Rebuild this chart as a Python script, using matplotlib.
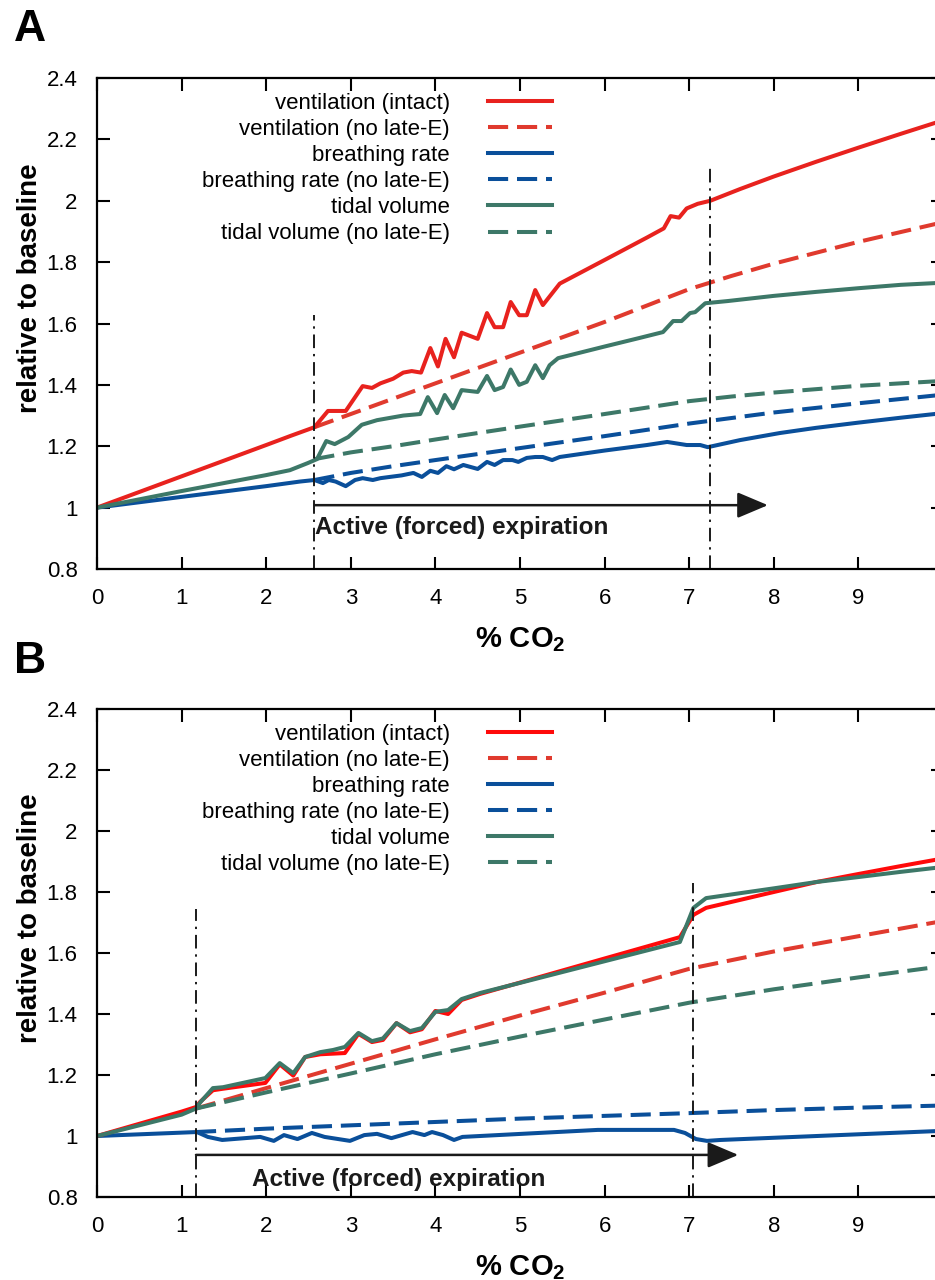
import matplotlib
matplotlib.use("Agg")
import matplotlib.pyplot as plt
from matplotlib.lines import Line2D

plt.rcParams['font.family'] = ['Liberation Sans', 'DejaVu Sans']
plt.rcParams['mathtext.fontset'] = 'custom'
plt.rcParams['mathtext.rm'] = 'Liberation Sans'
plt.rcParams['mathtext.bf'] = 'Liberation Sans:bold'

# ---------------- Panel A data ----------------
a_vent_x = [0, 1, 2, 2.3, 2.57, 2.73, 2.94, 3.14, 3.25, 3.35, 3.5, 3.62, 3.72, 3.83, 3.94,
            4.03, 4.12, 4.22, 4.31, 4.50, 4.61, 4.70, 4.80, 4.89, 4.99, 5.08, 5.18, 5.27,
            5.47, 6.0, 6.5, 6.7, 6.78, 6.88, 6.97, 7.1, 7.25, 7.6, 8.0, 8.5, 9.0, 9.5, 10.0]
a_vent_y = [1.0, 1.102, 1.204, 1.235, 1.262, 1.315, 1.315, 1.396, 1.39, 1.405, 1.42, 1.44,
            1.445, 1.44, 1.52, 1.46, 1.55, 1.49, 1.57, 1.55, 1.634, 1.588, 1.588, 1.67, 1.627,
            1.627, 1.709, 1.66, 1.73, 1.807, 1.88, 1.91, 1.95, 1.945, 1.975, 1.99, 2.0, 2.038,
            2.079, 2.127, 2.173, 2.218, 2.262]

a_rate_x = [0, 1, 2, 2.4, 2.57, 2.67, 2.74, 2.82, 2.94, 3.05, 3.14, 3.26, 3.35, 3.46, 3.6,
            3.74, 3.84, 3.94, 4.03, 4.13, 4.22, 4.33, 4.50, 4.61, 4.70, 4.80, 4.91, 4.98,
            5.08, 5.18, 5.27, 5.38, 5.47, 6.0, 6.5, 6.74, 6.97, 7.13, 7.22, 7.6, 8.07, 8.5,
            9.0, 9.5, 10.0]
a_rate_y = [1.0, 1.035, 1.07, 1.085, 1.09, 1.08, 1.09, 1.085, 1.07, 1.09, 1.096, 1.09, 1.096,
            1.10, 1.105, 1.113, 1.10, 1.12, 1.113, 1.135, 1.125, 1.139, 1.126, 1.149, 1.139,
            1.155, 1.155, 1.149, 1.162, 1.165, 1.165, 1.155, 1.165, 1.186, 1.204, 1.214,
            1.204, 1.204, 1.197, 1.22, 1.243, 1.26, 1.277, 1.293, 1.308]

a_tidal_x = [0, 1, 2, 2.28, 2.49, 2.6, 2.71, 2.81, 2.97, 3.13, 3.31, 3.62, 3.82, 3.91, 4.02,
             4.11, 4.21, 4.31, 4.5, 4.61, 4.70, 4.80, 4.89, 4.99, 5.08, 5.18, 5.27, 5.35,
             5.45, 6.0, 6.4, 6.69, 6.81, 6.91, 7.01, 7.07, 7.19, 7.45, 8.0, 8.5, 9.0, 9.5, 10.0]
a_tidal_y = [1.0, 1.054, 1.106, 1.122, 1.145, 1.158, 1.217, 1.207, 1.23, 1.27, 1.285, 1.30,
             1.305, 1.36, 1.308, 1.367, 1.324, 1.383, 1.377, 1.429, 1.383, 1.393, 1.45, 1.40,
             1.41, 1.464, 1.422, 1.464, 1.487, 1.525, 1.552, 1.572, 1.608, 1.608, 1.634,
             1.637, 1.666, 1.673, 1.69, 1.703, 1.715, 1.726, 1.733]

a_dash_x = [2.57, 3, 3.5, 4, 5, 6, 7, 7.5, 8, 9, 10]
a_vent_noE = [1.262, 1.305, 1.355, 1.405, 1.505, 1.605, 1.712, 1.755, 1.795, 1.866, 1.93]
a_rate_noE = [1.09, 1.113, 1.135, 1.155, 1.194, 1.233, 1.274, 1.292, 1.31, 1.34, 1.368]
a_tidal_noE = [1.158, 1.18, 1.2, 1.222, 1.264, 1.305, 1.347, 1.362, 1.375, 1.397, 1.413]

a_thresholds = [2.57, 7.25]
a_vline_tops = [1.627, 2.12]
a_arrow = (2.57, 7.93, 1.008)

# ---------------- Panel B data ----------------
b_vent_x = [0, 0.5, 1.0, 1.17, 1.22, 1.37, 1.49, 1.99, 2.16, 2.32, 2.46, 2.64, 2.79, 2.93,
            3.09, 3.25, 3.38, 3.54, 3.70, 3.84, 4.0, 4.15, 4.31, 4.53, 5.0, 6.0, 6.89, 7.05,
            7.2, 8.0, 8.51, 9.0, 9.5, 10.0]
b_vent_y = [1.0, 1.04, 1.08, 1.095, 1.112, 1.15, 1.155, 1.174, 1.235, 1.198, 1.259, 1.268,
            1.27, 1.272, 1.335, 1.308, 1.315, 1.37, 1.34, 1.35, 1.41, 1.40, 1.446, 1.466,
            1.503, 1.582, 1.652, 1.725, 1.748, 1.80, 1.833, 1.859, 1.885, 1.91]

b_tidal_x = [0, 1.0, 1.17, 1.22, 1.37, 1.49, 1.99, 2.16, 2.32, 2.46, 2.64, 2.79, 2.93, 3.09,
             3.25, 3.38, 3.54, 3.70, 3.84, 4.0, 4.15, 4.31, 4.53, 5.0, 6.0, 6.89, 7.05, 7.2,
             8.0, 8.51, 9.0, 9.5, 10.0]
b_tidal_y = [1.0, 1.07, 1.09, 1.11, 1.157, 1.16, 1.19, 1.239, 1.206, 1.259, 1.275, 1.282,
             1.292, 1.338, 1.311, 1.32, 1.37, 1.344, 1.354, 1.407, 1.413, 1.449, 1.469, 1.502,
             1.573, 1.636, 1.748, 1.78, 1.812, 1.833, 1.849, 1.866, 1.882]

b_rate_x = [0, 1.18, 1.31, 1.48, 1.93, 2.09, 2.21, 2.37, 2.54, 2.69, 2.99, 3.16, 3.31, 3.48,
            3.73, 3.87, 3.96, 4.09, 4.22, 4.32, 5.92, 6.82, 6.95, 7.08, 7.21, 7.37, 10.0]
b_rate_y = [1.0, 1.013, 0.997, 0.987, 0.997, 0.984, 1.003, 0.99, 1.01, 0.997, 0.984, 1.003,
            1.007, 0.993, 1.013, 1.003, 1.013, 1.003, 0.987, 0.997, 1.02, 1.02, 1.01, 0.99,
            0.984, 0.987, 1.017]

b_dash_x = [1.17, 2, 3, 4, 5, 6, 7, 8, 9, 10]
b_vent_noE = [1.09, 1.157, 1.237, 1.317, 1.395, 1.47, 1.548, 1.605, 1.655, 1.705]
b_rate_noE = [1.013, 1.024, 1.035, 1.046, 1.057, 1.066, 1.075, 1.085, 1.093, 1.10]
b_tidal_noE = [1.09, 1.143, 1.205, 1.268, 1.326, 1.382, 1.437, 1.481, 1.52, 1.557]

b_thresholds = [1.17, 7.045]
b_vline_tops = [1.744, 1.83]
b_arrow = (1.17, 7.58, 0.938)

labels = ['ventilation (intact)', 'ventilation (no late-E)', 'breathing rate',
          'breathing rate (no late-E)', 'tidal volume', 'tidal volume (no late-E)']
y_ticks = [0.8, 1.0, 1.2, 1.4, 1.6, 1.8, 2.0, 2.2, 2.4]
x_ticks = list(range(0, 11))
x_ticklabels = ['0', '1', '2', '3', '4', '5', '6', '7', '8', '9', '']

RED_A = '#e8221e'
RED_B = '#ff0a0a'
RED_D = '#e03a2e'
BLUE = '#0a4f9a'
GREEN = '#3d7868'
LW = 2.9
DASH = (5, 2.2)

fig = plt.figure(figsize=(9.35, 12.8), dpi=100)
W, H = 935.0, 1280.0


def make_axes(top_px, bot_px):
    return fig.add_axes([97 / W, 1 - bot_px / H, 846 / W, (bot_px - top_px) / H])


def style(ax):
    ax.set_xlim(0, 10)
    ax.set_ylim(0.8, 2.4)
    ax.set_yticks(y_ticks)
    ax.set_yticklabels(['%g' % v for v in y_ticks])
    ax.set_xticks(x_ticks)
    ax.set_xticklabels(x_ticklabels)
    ax.tick_params(direction='in', length=9, width=1.5, top=True, right=True,
                   labelsize=16, pad=14)
    for s in ax.spines.values():
        s.set_linewidth(1.6)
    ax.set_ylabel('relative to baseline', fontsize=20, fontweight='bold')
    ax.yaxis.set_label_coords(-0.064, 0.572)
    ax.set_xlabel(r'% CO$_{\mathbf{2}}$', fontsize=21, fontweight='bold', labelpad=11)


def panel(ax, red, vx, vy, rx, ry, tx, ty, dx, vn, rn, tn, thr, tops, arrow, txt_x, txt_y):
    ax.plot(dx, vn, color=RED_D, lw=LW, dashes=DASH)
    ax.plot(dx, tn, color=GREEN, lw=LW, dashes=DASH)
    ax.plot(dx, rn, color=BLUE, lw=LW, dashes=DASH)
    ax.plot(rx, ry, color=BLUE, lw=LW)
    ax.plot(vx, vy, color=red, lw=LW)
    ax.plot(tx, ty, color=GREEN, lw=LW)
    for t, top in zip(thr, tops):
        ax.plot([t, t], [0.8, top], color='#1a1a1a', lw=1.4,
                linestyle=(0, (7, 3, 1.2, 3)))
    ax.annotate('', xy=(arrow[1], arrow[2]), xytext=(arrow[0], arrow[2]),
                arrowprops=dict(arrowstyle='-|>,head_length=0.9,head_width=0.38',
                                color='#1a1a1a', lw=1.8, shrinkA=0, shrinkB=0,
                                mutation_scale=21))
    ax.text(txt_x, txt_y, 'Active (forced) expiration', fontsize=17.5, fontweight='bold',
            ha='center', va='center', color='#1a1a1a')
    handles = [Line2D([], [], color=red, lw=LW),
               Line2D([], [], color=RED_D, lw=LW, dashes=DASH),
               Line2D([], [], color=BLUE, lw=LW),
               Line2D([], [], color=BLUE, lw=LW, dashes=DASH),
               Line2D([], [], color=GREEN, lw=LW),
               Line2D([], [], color=GREEN, lw=LW, dashes=DASH)]
    ax.legend(handles, labels, loc='upper right', bbox_to_anchor=(0.538, 0.970),
              frameon=False, markerfirst=False, alignment='right', handlelength=2.9,
              handletextpad=1.7, labelspacing=0.23, borderpad=0, borderaxespad=0,
              fontsize=16)
    style(ax)


axA = make_axes(78, 569)
panel(axA, RED_A, a_vent_x, a_vent_y, a_rate_x, a_rate_y, a_tidal_x, a_tidal_y,
      a_dash_x, a_vent_noE, a_rate_noE, a_tidal_noE, a_thresholds, a_vline_tops, a_arrow,
      4.31, 0.934)

axB = make_axes(709, 1197)
panel(axB, RED_B, b_vent_x, b_vent_y, b_rate_x, b_rate_y, b_tidal_x, b_tidal_y,
      b_dash_x, b_vent_noE, b_rate_noE, b_tidal_noE, b_thresholds, b_vline_tops, b_arrow,
      3.57, 0.856)

fig.text(14 / W, 1 - 9 / H, 'A', fontsize=32, fontweight='bold', va='top', ha='left')
fig.text(14 / W, 1 - 641 / H, 'B', fontsize=32, fontweight='bold', va='top', ha='left')

fig.savefig('out.png', dpi=100)
